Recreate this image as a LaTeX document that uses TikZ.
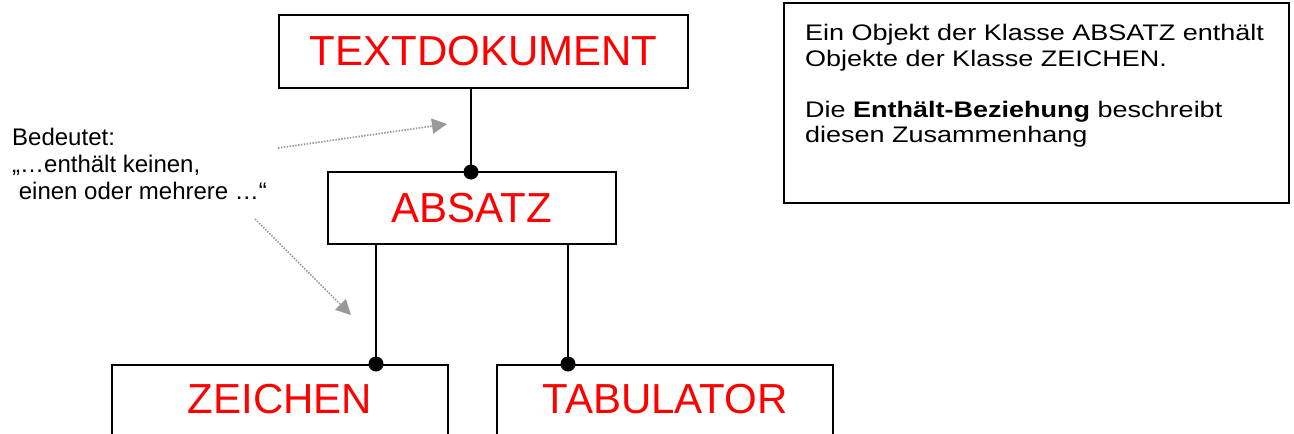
\documentclass[tikz,border=0pt]{standalone}
\usepackage{fontspec}
\setmainfont{Liberation Sans}
\newfontfamily\widesans[FakeStretch=1.2]{Liberation Sans}
\usetikzlibrary{arrows.meta}
\definecolor{hintgray}{HTML}{999999}

\begin{document}
\begin{tikzpicture}[x=1pt,y=-1pt,
  classbox/.style={draw=black, line width=1.8pt, fill=white, inner sep=0pt,
    font=\fontsize{42}{48}\selectfont, text=red},
  openbox/.style={classbox, text height=30pt, text depth=24pt, inner ysep=19pt},
  link/.style={line width=1.8pt, draw=black},
  joint/.style={fill=black},
  hint/.style={draw=hintgray, line width=1.7pt, dash pattern=on 1.5pt off 1.4pt,
    -{Triangle[length=15pt,width=15pt,fill=hintgray]}},
  note/.style={align=left, inner sep=0pt, anchor=base west}
]
\clip (0,0) rectangle (1294,434);
\fill[white] (0,0) rectangle (1294,434);

% class boxes
\node[classbox, minimum width=409pt, minimum height=73pt] (textdok) at (483.5,51.5) {TEXTDOKUMENT};
\node[classbox, minimum width=288pt, minimum height=72pt] (absatz) at (472,208) {ABSATZ};
\node[openbox, minimum width=336pt, anchor=north] (zeichen) at (280,364) {ZEICHEN};
\node[openbox, minimum width=336pt, anchor=north] (tabulator) at (665,364) {TABULATOR};

% joints on the top edges of the contained classes
\coordinate (jA) at (471,172);
\coordinate (jZ) at (376,364);
\coordinate (jT) at (568,364);

\draw[link] (jA |- textdok.south) -- (jA);
\draw[link] (jZ |- absatz.south) -- (jZ);
\draw[link] (jT |- absatz.south) -- (jT);
\fill[joint] (jA) circle (7.5pt);
\fill[joint] (jZ) circle (7.5pt);
\fill[joint] (jT) circle (7.5pt);

% explanation on the left (anchored at the baseline of its last line)
\node[note, font=\fontsize{24}{27}\selectfont] (meaning) at (12,199)
  {Bedeutet:\\„…enthält keinen,\\\hspace*{.278em}einen oder mehrere …“};

\coordinate (h1s) at (278,148);
\coordinate (h1e) at (447,124);
\coordinate (h2s) at (255,219);
\coordinate (h2e) at (351,315);
\draw[hint] (h1s) -- (h1e);
\draw[hint] (h2s) -- (h2e);

% info box on the right
\node[draw=black, line width=1.8pt, minimum width=505pt, minimum height=200pt, inner sep=0pt]
  (info) at (1036.5,103) {};
\node[note, font=\widesans\fontsize{22.5}{25.5}\selectfont] (infotext) at (805,142.5)
  {Ein Objekt der Klasse ABSATZ enthält\\
   Objekte der Klasse ZEICHEN.\\[25.5pt]
   Die \textbf{Enthält-Beziehung} beschreibt\\
   diesen Zusammenhang};
\end{tikzpicture}
\end{document}
